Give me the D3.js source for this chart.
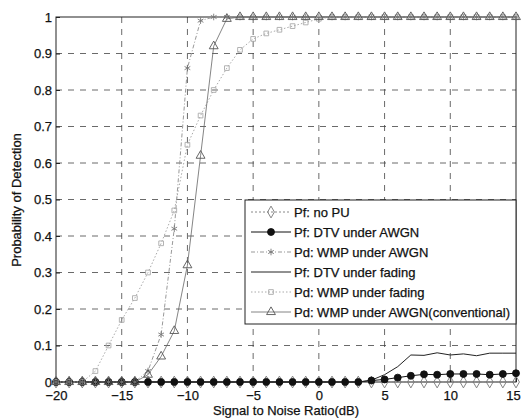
<!DOCTYPE html>
<html><head><meta charset="utf-8">
<script src="https://cdn.jsdelivr.net/npm/d3@7"></script>
<style>body{margin:0;background:#fff}svg{display:block}text{font-family:"Liberation Sans",Arial,sans-serif;fill:#111;stroke:#111;stroke-width:0.25px}</style>
</head><body>
<script>
const snr = [-20,-19,-18,-17,-16,-15,-14,-13,-12,-11,-10,-9,-8,-7,-6,-5,-4,-3,-2,-1,0,1,2,3,4,5,6,7,8,9,10,11,12,13,14,15];
const pfNoPU      = [0,0,0,0,0,0,0,0,0,0,0,0,0,0,0,0,0,0,0,0,0,0,0,0,0,0,0,0,0,0,0,0,0,0,0,0];
const pfDtvAwgn   = [0,0,0,0,0,0,0,0,0,0,0,0,0,0,0,0,0,0,0,0,0,0,0,0,0.004,0.007,0.012,0.017,0.021,0.02,0.022,0.022,0.022,0.02,0.022,0.024];
const pdWmpAwgn   = [0,0,0,0,0,0,0,0.03,0.13,0.42,0.86,0.99,1,1,1,1,1,1,1,1,1,1,1,1,1,1,1,1,1,1,1,1,1,1,1,1];
const pfDtvFading = [0,0,0,0,0,0,0,0,0,0,0,0,0,0,0,0,0,0,0,0,0,0,0,0,0.005,0.02,0.042,0.074,0.073,0.08,0.074,0.077,0.072,0.079,0.079,0.079];
const pdWmpFading = [0,0,0,0.03,0.1,0.17,0.23,0.3,0.38,0.47,0.65,0.73,0.8,0.86,0.91,0.94,0.955,0.965,0.975,0.985,0.995,1,1,1,1,1,1,1,1,1,1,1,1,1,1,1];
const pdWmpConv   = [0,0,0,0,0,0,0,0.02,0.07,0.14,0.32,0.62,0.92,0.995,1,1,1,1,1,1,1,1,1,1,1,1,1,1,1,1,1,1,1,1,1,1];
const xTicks = [-20,-15,-10,-5,0,5,10,15];
const yTicks = [0,0.1,0.2,0.3,0.4,0.5,0.6,0.7,0.8,0.9,1];
const yTickLabels = ["0","0.1","0.2","0.3","0.4","0.5","0.6","0.7","0.8","0.9","1"];
const legendLabels = ["Pf: no PU","Pf: DTV under AWGN","Pd: WMP under AWGN","Pf: DTV under fading","Pd: WMP under fading","Pd: WMP under AWGN(conventional)"];

const W=522,H=418, L=56,R=516,T=17,B=382;
const svg=d3.select("body").append("svg").attr("width",W).attr("height",H);
const x=d3.scaleLinear().domain([-20,15]).range([L,R]);
const y=d3.scaleLinear().domain([0,1]).range([B,T]);

// grid
const g=svg.append("g");
g.selectAll(".gx").data(xTicks.slice(1,-1)).join("line")
 .attr("x1",d=>x(d)).attr("x2",d=>x(d)).attr("y1",T).attr("y2",B)
 .attr("stroke","#444").attr("stroke-width",0.8).attr("stroke-dasharray","6,6");
g.selectAll(".gy").data(yTicks.slice(1,-1)).join("line")
 .attr("y1",d=>y(d)).attr("y2",d=>y(d)).attr("x1",L).attr("x2",R)
 .attr("stroke","#444").attr("stroke-width",0.8).attr("stroke-dasharray","6,6");

// axes
const xa=svg.append("g").attr("transform",`translate(0,${B})`)
 .call(d3.axisBottom(x).tickValues(xTicks).tickSize(-4).tickPadding(9).tickFormat(d3.format("d")));
const ya=svg.append("g").attr("transform",`translate(${L},0)`)
 .call(d3.axisLeft(y).tickValues(yTicks).tickSize(-4).tickPadding(4).tickFormat((d,i)=>yTickLabels[i]));
[xa,ya].forEach(a=>{a.select(".domain").remove();a.selectAll("text").attr("font-size",13).attr("fill","#111");a.selectAll("line").attr("stroke","#222");});
xa.selectAll("text").filter(d=>d===15).attr("dx",-3);
svg.append("rect").attr("x",L).attr("y",T).attr("width",R-L).attr("height",B-T).attr("fill","none").attr("stroke","#222").attr("stroke-width",1);

const series=[
 {v:pfNoPU, stroke:"#888", dash:"2,2", w:1, sym:d3.symbolDiamond, size:40, fill:"none", ms:"#777"},
 {v:pfDtvAwgn, stroke:"#111", dash:null, w:1, sym:d3.symbolCircle, size:38, fill:"#111", ms:"#111"},
 {v:pdWmpAwgn, stroke:"#999", dash:"4,2,1,2", w:1, sym:d3.symbolAsterisk, size:30, fill:"none", ms:"#777"},
 {v:pfDtvFading, stroke:"#222", dash:null, w:1, sym:null},
 {v:pdWmpFading, stroke:"#aaa", dash:"1.5,2", w:1, sym:d3.symbolSquare, size:22, fill:"none", ms:"#aaa"},
 {v:pdWmpConv, stroke:"#666", dash:null, w:0.8, sym:d3.symbolTriangle, size:34, fill:"none", ms:"#555"}
];
const line=d3.line().x((d,i)=>x(snr[i])).y(d=>y(d));
series.forEach(s=>{
  svg.append("path").datum(s.v).attr("d",line).attr("fill","none")
   .attr("stroke",s.stroke).attr("stroke-width",s.w).attr("stroke-dasharray",s.dash);
});
series.forEach(s=>{
  if(!s.sym) return;
  svg.append("g").selectAll("path").data(s.v).join("path")
   .attr("transform",(d,i)=>`translate(${x(snr[i])},${y(d)})`)
   .attr("d",d3.symbol().type(s.sym).size(s.size))
   .attr("fill",s.fill).attr("stroke",s.ms).attr("stroke-width",0.9);
});

// legend
const lg=svg.append("g");
lg.append("rect").attr("x",245).attr("y",200).attr("width",R-245).attr("height",124)
 .attr("fill","#fff").attr("stroke","#222").attr("stroke-width",1);
legendLabels.forEach((t,i)=>{
  const s=series[i], cy=212+20*i;
  lg.append("line").attr("x1",251).attr("x2",291).attr("y1",cy).attr("y2",cy)
   .attr("stroke",s.stroke).attr("stroke-width",s.w).attr("stroke-dasharray",s.dash);
  if(s.sym) lg.append("path").attr("transform",`translate(271,${cy})`)
   .attr("d",d3.symbol().type(s.sym).size(s.size)).attr("fill",s.fill).attr("stroke",s.ms).attr("stroke-width",0.9);
  lg.append("text").attr("x",294).attr("y",cy+4.5).attr("font-size",13).text(t);
});

svg.append("text").attr("x",286).attr("y",415).attr("text-anchor","middle").attr("font-size",13).text("Signal to Noise Ratio(dB)");
svg.append("text").attr("transform","translate(21,200) rotate(-90)").attr("text-anchor","middle").attr("font-size",13).text("Probability of Detection");
</script>
</body></html>
